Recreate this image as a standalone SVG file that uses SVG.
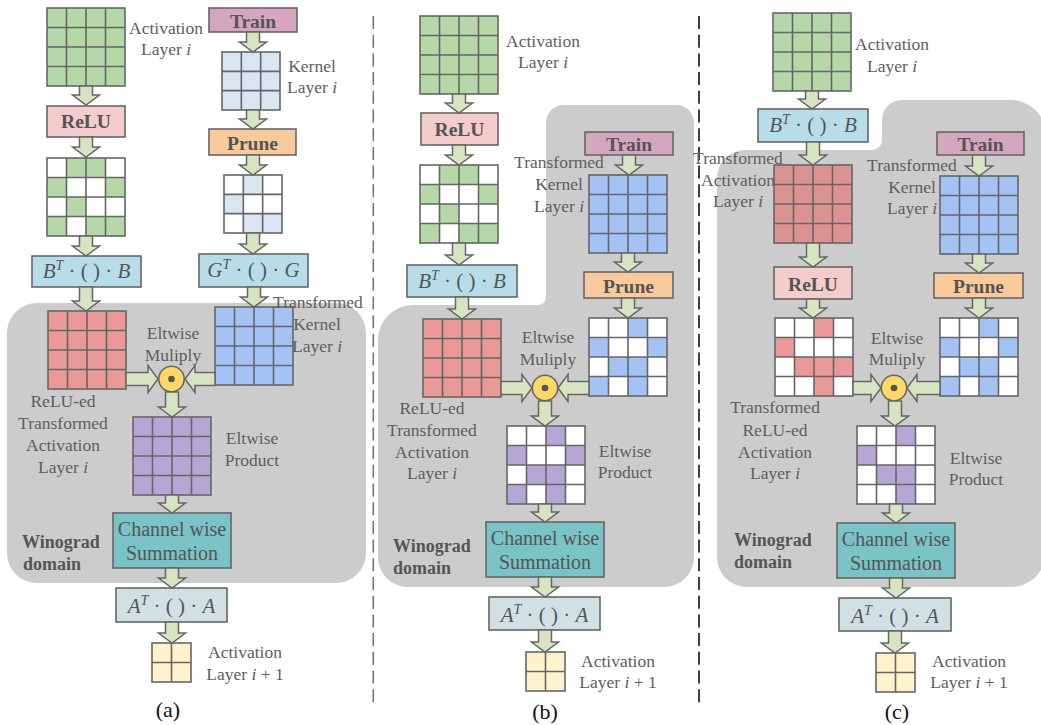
<svg xmlns="http://www.w3.org/2000/svg" xmlns:xlink="http://www.w3.org/1999/xlink" width="1041" height="725" viewBox="0 0 1041 725">
<style>
.lbl{font-family:"Liberation Serif",serif;font-size:17.5px;fill:#5e5e5e;text-anchor:middle}
.op{font-family:"Liberation Serif",serif;font-size:19.5px;font-weight:bold;fill:#555;text-anchor:middle}
.dom{font-family:"Liberation Serif",serif;font-size:18px;font-weight:bold;fill:#555}
.math{font-family:"Liberation Serif",serif;font-size:21px;fill:#555;text-anchor:middle}
.sum{font-family:"Liberation Serif",serif;font-size:20px;fill:#555;text-anchor:middle}
.cap{font-family:"Liberation Serif",serif;font-size:22px;fill:#111;text-anchor:middle}
.box{stroke:#666;stroke-width:1.6}
.gl{fill:none;stroke:#666;stroke-width:1.6}
.arr polygon{fill:#d7e4c1;stroke:#666;stroke-width:1.5;stroke-linejoin:miter}
.region{fill:#cccccc}
.g{fill:#b6d7a8}.kb{fill:#dbe5f1}.b{fill:#a4c2f4}.r{fill:#ea9999}.r2{fill:#dd9292}.p{fill:#b4a7d6}.w{fill:#ffffff}.y{fill:#fff2cc}
.relu{fill:#f4cccc}.bt{fill:#b7dee8}.train{fill:#d5a6bd}.prune{fill:#f9cb9c}.ch{fill:#7ac3c6}.at{fill:#d0e0e3}
.circ{fill:#ffd966;stroke:#666;stroke-width:1.6}
.sep1{stroke:#777;stroke-width:1.6;stroke-dasharray:13 5.7}
.sep2{stroke:#111;stroke-width:1.6;stroke-dasharray:13 5.7}
</style>
<defs>
<g id="grid4"><rect width="78" height="78" class="gl"/><path class="gl" d="M19.5 0V78M39 0V78M58.5 0V78M0 19.5H78M0 39H78M0 58.5H78"/></g>
<g id="grid3"><rect width="58" height="58" class="gl"/><path class="gl" d="M19.33 0V58M38.67 0V58M0 19.33H58M0 38.67H58"/></g>
<g id="grid2"><rect width="39" height="39" class="gl"/><path class="gl" d="M19.5 0V39M0 19.5H39"/></g>
</defs>

<!-- background regions -->
<g id="regions">
<rect id="a-winograd" class="region" x="7" y="303" width="359" height="280" rx="30"/>
<path id="b-winograd" class="region" d="M564,105 H676 A18 18 0 0 1 694 123 V557 A30 30 0 0 1 664 587 H408 A30 30 0 0 1 378 557 V340 A35 35 0 0 1 413 305 H538 A8 8 0 0 0 546 297 V123 A18 18 0 0 1 564 105 Z"/>
<path id="c-winograd" class="region" d="M902,100 H1011 A35 35 0 0 1 1046 135 V552 A35 35 0 0 1 1011 587 H747 A30 30 0 0 1 717 557 V178 A28 28 0 0 1 745 150 H872 A10 10 0 0 0 882 140 V120 A20 20 0 0 1 902 100 Z"/>
</g>

<g id="separators">
<line class="sep1" x1="373.3" y1="16" x2="373.3" y2="708"/>
<line class="sep2" x1="699" y1="16" x2="699" y2="708"/>
</g>

<!-- ================= (a) ================= -->
<g id="a-act">
<rect x="47" y="8" width="78" height="78" class="g"/><use href="#grid4" x="47" y="8"/>
<text class="lbl" x="166" y="34">Activation</text>
<text class="lbl" x="166" y="55">Layer <tspan font-style="italic">i</tspan></text>
</g>
<g id="a-relu"><rect x="47" y="106" width="78" height="31" class="relu box"/><text class="op" x="86" y="128">ReLU</text></g>
<g id="a-act-sparse" transform="translate(47,158)">
<rect width="78" height="78" class="w"/>
<rect x="19.5" y="0" width="39" height="19.5" class="g"/>
<rect x="0" y="19.5" width="19.5" height="19.5" class="g"/><rect x="58.5" y="19.5" width="19.5" height="19.5" class="g"/>
<rect x="19.5" y="39" width="19.5" height="19.5" class="g"/>
<rect x="0" y="58.5" width="19.5" height="19.5" class="g"/><rect x="39" y="58.5" width="39" height="19.5" class="g"/>
<use href="#grid4"/>
</g>
<g id="a-bt"><rect x="32" y="256" width="109" height="31" class="bt box"/>
<text class="math" x="86.5" y="278"><tspan font-style="italic">B</tspan><tspan font-style="italic" font-size="14" dy="-8">T</tspan><tspan dy="8"> · ( ) · </tspan><tspan font-style="italic">B</tspan></text></g>
<g id="a-train"><rect x="209" y="8" width="88" height="24" class="train box"/><text class="op" x="253" y="28">Train</text></g>
<g id="a-kernel">
<rect x="222" y="52" width="58" height="58" class="kb"/><use href="#grid3" x="222" y="52"/>
<text class="lbl" x="312" y="72">Kernel</text>
<text class="lbl" x="312" y="93">Layer <tspan font-style="italic">i</tspan></text>
</g>
<g id="a-prune"><rect x="209" y="129" width="87" height="26" class="prune box"/><text class="op" x="252.5" y="150">Prune</text></g>
<g id="a-kernel-sparse" transform="translate(224,175)">
<rect width="58" height="58" class="w"/>
<rect x="19.33" y="0" width="19.33" height="19.33" class="kb"/>
<rect x="0" y="19.33" width="19.33" height="19.33" class="kb"/>
<rect x="19.33" y="38.67" width="38.67" height="19.33" class="kb"/>
<use href="#grid3"/>
</g>
<g id="a-gt"><rect x="199" y="254" width="109" height="33" class="bt box"/>
<text class="math" x="253.5" y="277"><tspan font-style="italic">G</tspan><tspan font-style="italic" font-size="14" dy="-8">T</tspan><tspan dy="8"> · ( ) · </tspan><tspan font-style="italic">G</tspan></text></g>
<g id="a-tact">
<rect x="48" y="311" width="78" height="78" class="r"/><use href="#grid4" x="48" y="311"/>
<text class="lbl" x="63" y="407">ReLU-ed</text>
<text class="lbl" x="63" y="429">Transformed</text>
<text class="lbl" x="63" y="451">Activation</text>
<text class="lbl" x="63" y="473">Layer <tspan font-style="italic">i</tspan></text>
</g>
<g id="a-tkernel">
<rect x="215" y="307" width="78" height="78" class="b"/><use href="#grid4" x="215" y="307"/>
<text class="lbl" x="318" y="308">Transformed</text>
<text class="lbl" x="317" y="330">Kernel</text>
<text class="lbl" x="317" y="352">Layer <tspan font-style="italic">i</tspan></text>
</g>
<g id="a-mul">
<circle class="circ" cx="171.5" cy="379" r="12.7"/><circle cx="171.5" cy="379" r="3.3" fill="#555"/>
<text class="lbl" x="173" y="339">Eltwise</text>
<text class="lbl" x="173" y="361">Muliply</text>
</g>
<g id="a-prod">
<rect x="133" y="417" width="78" height="78" class="p"/><use href="#grid4" x="133" y="417"/>
<text class="lbl" x="252" y="444">Eltwise</text>
<text class="lbl" x="252" y="466">Product</text>
</g>
<g id="a-sum"><rect x="113" y="513" width="118" height="55" class="ch box"/>
<text class="sum" x="172" y="536">Channel wise</text><text class="sum" x="172" y="560">Summation</text></g>
<g id="a-domain"><text class="dom" x="22" y="548">Winograd</text><text class="dom" x="23" y="570">domain</text></g>
<g id="a-at"><rect x="116" y="588" width="111" height="34" class="at box"/>
<text class="math" x="171.5" y="613"><tspan font-style="italic">A</tspan><tspan font-style="italic" font-size="14" dy="-8">T</tspan><tspan dy="8"> · ( ) · </tspan><tspan font-style="italic">A</tspan></text></g>
<g id="a-out">
<rect x="152" y="643" width="39" height="39" class="y"/><use href="#grid2" x="152" y="643"/>
<text class="lbl" x="245" y="658">Activation</text>
<text class="lbl" x="245" y="680">Layer <tspan font-style="italic">i</tspan> + 1</text>
</g>
<text id="cap-a" class="cap" x="168" y="717">(a)</text>

<!-- ================= (b) ================= -->
<g id="b-act">
<rect x="420" y="16" width="78" height="78" class="g"/><use href="#grid4" x="420" y="16"/>
<text class="lbl" x="543" y="47">Activation</text>
<text class="lbl" x="543" y="68">Layer <tspan font-style="italic">i</tspan></text>
</g>
<g id="b-relu"><rect x="421" y="113" width="77" height="32" class="relu box"/><text class="op" x="459.5" y="136">ReLU</text></g>
<g id="b-act-sparse" transform="translate(420,165)">
<rect width="78" height="78" class="w"/>
<rect x="19.5" y="0" width="39" height="19.5" class="g"/>
<rect x="0" y="19.5" width="19.5" height="19.5" class="g"/><rect x="58.5" y="19.5" width="19.5" height="19.5" class="g"/>
<rect x="19.5" y="39" width="19.5" height="19.5" class="g"/>
<rect x="0" y="58.5" width="19.5" height="19.5" class="g"/><rect x="39" y="58.5" width="39" height="19.5" class="g"/>
<use href="#grid4"/>
</g>
<g id="b-bt"><rect x="407" y="265" width="110" height="32" class="bt box"/>
<text class="math" x="462" y="288"><tspan font-style="italic">B</tspan><tspan font-style="italic" font-size="14" dy="-8">T</tspan><tspan dy="8"> · ( ) · </tspan><tspan font-style="italic">B</tspan></text></g>
<g id="b-train"><rect x="585" y="132" width="88" height="23" class="train box"/><text class="op" x="629" y="151">Train</text></g>
<g id="b-tkernel">
<rect x="589" y="175" width="78" height="78" class="b"/><use href="#grid4" x="589" y="175"/>
<text class="lbl" x="559" y="168">Transformed</text>
<text class="lbl" x="559" y="190">Kernel</text>
<text class="lbl" x="559" y="212">Layer <tspan font-style="italic">i</tspan></text>
</g>
<g id="b-prune"><rect x="584" y="272" width="89" height="26" class="prune box"/><text class="op" x="628.5" y="293">Prune</text></g>
<g id="b-tkernel-sparse" transform="translate(589,318)">
<rect width="78" height="78" class="w"/>
<rect x="39" y="0" width="19.5" height="19.5" class="b"/>
<rect x="0" y="19.5" width="19.5" height="19.5" class="b"/><rect x="58.5" y="19.5" width="19.5" height="19.5" class="b"/>
<rect x="19.5" y="39" width="39" height="19.5" class="b"/>
<rect x="0" y="58.5" width="19.5" height="19.5" class="b"/><rect x="39" y="58.5" width="19.5" height="19.5" class="b"/>
<use href="#grid4"/>
</g>
<g id="b-tact">
<rect x="423" y="319" width="78" height="78" class="r"/><use href="#grid4" x="423" y="319"/>
<text class="lbl" x="432" y="414">ReLU-ed</text>
<text class="lbl" x="432" y="436">Transformed</text>
<text class="lbl" x="432" y="458">Activation</text>
<text class="lbl" x="432" y="479">Layer <tspan font-style="italic">i</tspan></text>
</g>
<g id="b-mul">
<circle class="circ" cx="545" cy="388" r="12.7"/><circle cx="545" cy="388" r="3.3" fill="#555"/>
<text class="lbl" x="548" y="343">Eltwise</text>
<text class="lbl" x="548" y="365">Muliply</text>
</g>
<g id="b-prod" transform="translate(507,426)">
<rect width="78" height="78" class="w"/>
<rect x="39" y="0" width="19.5" height="19.5" class="p"/>
<rect x="0" y="19.5" width="19.5" height="19.5" class="p"/><rect x="58.5" y="19.5" width="19.5" height="19.5" class="p"/>
<rect x="19.5" y="39" width="39" height="19.5" class="p"/>
<rect x="0" y="58.5" width="19.5" height="19.5" class="p"/><rect x="39" y="58.5" width="19.5" height="19.5" class="p"/>
<use href="#grid4"/>
<text class="lbl" x="118" y="31">Eltwise</text>
<text class="lbl" x="118" y="52">Product</text>
</g>
<g id="b-sum"><rect x="486" y="522" width="118" height="55" class="ch box"/>
<text class="sum" x="545" y="545">Channel wise</text><text class="sum" x="545" y="569">Summation</text></g>
<g id="b-domain"><text class="dom" x="393" y="552">Winograd</text><text class="dom" x="393" y="574">domain</text></g>
<g id="b-at"><rect x="489" y="597" width="111" height="33" class="at box"/>
<text class="math" x="544.5" y="622"><tspan font-style="italic">A</tspan><tspan font-style="italic" font-size="14" dy="-8">T</tspan><tspan dy="8"> · ( ) · </tspan><tspan font-style="italic">A</tspan></text></g>
<g id="b-out">
<rect x="526" y="652" width="39" height="39" class="y"/><use href="#grid2" x="526" y="652"/>
<text class="lbl" x="618" y="667">Activation</text>
<text class="lbl" x="618" y="688">Layer <tspan font-style="italic">i</tspan> + 1</text>
</g>
<text id="cap-b" class="cap" x="545" y="719">(b)</text>

<!-- ================= (c) ================= -->
<g id="c-act">
<rect x="773" y="13" width="78" height="78" class="g"/><use href="#grid4" x="773" y="13"/>
<text class="lbl" x="892" y="50">Activation</text>
<text class="lbl" x="892" y="72">Layer <tspan font-style="italic">i</tspan></text>
</g>
<g id="c-bt"><rect x="758" y="109" width="110" height="33" class="bt box"/>
<text class="math" x="813" y="132"><tspan font-style="italic">B</tspan><tspan font-style="italic" font-size="14" dy="-8">T</tspan><tspan dy="8"> · ( ) · </tspan><tspan font-style="italic">B</tspan></text></g>
<g id="c-tact">
<rect x="774" y="165" width="78" height="78" class="r2"/><use href="#grid4" x="774" y="165"/>
<text class="lbl" x="738" y="164">Transformed</text>
<text class="lbl" x="738" y="186">Activation</text>
<text class="lbl" x="738" y="207">Layer <tspan font-style="italic">i</tspan></text>
</g>
<g id="c-relu"><rect x="774" y="267" width="78" height="32" class="relu box"/><text class="op" x="813" y="291">ReLU</text></g>
<g id="c-tact-sparse" transform="translate(775,318)">
<rect width="78" height="78" class="w"/>
<rect x="39" y="0" width="19.5" height="19.5" class="r"/>
<rect x="0" y="19.5" width="19.5" height="19.5" class="r"/>
<rect x="19.5" y="39" width="58.5" height="19.5" class="r"/>
<rect x="39" y="58.5" width="19.5" height="19.5" class="r"/>
<use href="#grid4"/>
<text class="lbl" x="0" y="95">Transformed</text>
<text class="lbl" x="0" y="118">ReLU-ed</text>
<text class="lbl" x="0" y="140">Activation</text>
<text class="lbl" x="0" y="161">Layer <tspan font-style="italic">i</tspan></text>
</g>
<g id="c-train"><rect x="937" y="132" width="87" height="23" class="train box"/><text class="op" x="980.5" y="151">Train</text></g>
<g id="c-tkernel">
<rect x="940" y="176" width="78" height="78" class="b"/><use href="#grid4" x="940" y="176"/>
<text class="lbl" x="912" y="171">Transformed</text>
<text class="lbl" x="912" y="193">Kernel</text>
<text class="lbl" x="912" y="214">Layer <tspan font-style="italic">i</tspan></text>
</g>
<g id="c-prune"><rect x="934" y="273" width="89" height="25" class="prune box"/><text class="op" x="978.5" y="293">Prune</text></g>
<g id="c-tkernel-sparse" transform="translate(940,318)">
<rect width="78" height="78" class="w"/>
<rect x="39" y="0" width="19.5" height="19.5" class="b"/>
<rect x="0" y="19.5" width="19.5" height="19.5" class="b"/><rect x="58.5" y="19.5" width="19.5" height="19.5" class="b"/>
<rect x="19.5" y="39" width="39" height="19.5" class="b"/>
<rect x="0" y="58.5" width="19.5" height="19.5" class="b"/><rect x="39" y="58.5" width="19.5" height="19.5" class="b"/>
<use href="#grid4"/>
</g>
<g id="c-mul">
<circle class="circ" cx="894" cy="388" r="12.7"/><circle cx="894" cy="388" r="3.3" fill="#555"/>
<text class="lbl" x="897" y="344">Eltwise</text>
<text class="lbl" x="897" y="365">Muliply</text>
</g>
<g id="c-prod" transform="translate(857,426)">
<rect width="78" height="78" class="w"/>
<rect x="39" y="0" width="19.5" height="19.5" class="p"/>
<rect x="0" y="19.5" width="19.5" height="19.5" class="p"/>
<rect x="19.5" y="39" width="39" height="19.5" class="p"/>
<rect x="39" y="58.5" width="19.5" height="19.5" class="p"/>
<use href="#grid4"/>
<text class="lbl" x="119" y="38">Eltwise</text>
<text class="lbl" x="119" y="59">Product</text>
</g>
<g id="c-sum"><rect x="837" y="523" width="118" height="55" class="ch box"/>
<text class="sum" x="896" y="546">Channel wise</text><text class="sum" x="896" y="570">Summation</text></g>
<g id="c-domain"><text class="dom" x="734" y="546">Winograd</text><text class="dom" x="734" y="568">domain</text></g>
<g id="c-at"><rect x="839" y="598" width="112" height="33" class="at box"/>
<text class="math" x="895" y="623"><tspan font-style="italic">A</tspan><tspan font-style="italic" font-size="14" dy="-8">T</tspan><tspan dy="8"> · ( ) · </tspan><tspan font-style="italic">A</tspan></text></g>
<g id="c-out">
<rect x="876" y="653" width="39" height="39" class="y"/><use href="#grid2" x="876" y="653"/>
<text class="lbl" x="969" y="667">Activation</text>
<text class="lbl" x="969" y="688">Layer <tspan font-style="italic">i</tspan> + 1</text>
</g>
<text id="cap-c" class="cap" x="897" y="719">(c)</text>

<!-- ================= connectors ================= -->
<g id="connectors" class="arr">
<!-- (a) -->
<polygon points="79.5,86 92.5,86 92.5,95 99.5,95 86,105 72.5,95 79.5,95"/>
<polygon points="79.5,137 92.5,137 92.5,147 99.5,147 86,157 72.5,147 79.5,147"/>
<polygon points="79.5,236 92.5,236 92.5,246 99.5,246 86,256 72.5,246 79.5,246"/>
<polygon points="79.5,287 92.5,287 92.5,301 99.5,301 86,311 72.5,301 79.5,301"/>
<polygon points="246.5,32 259.5,32 259.5,42 266.5,42 253,52 239.5,42 246.5,42"/>
<polygon points="246.5,110 259.5,110 259.5,119 266.5,119 253,129 239.5,119 246.5,119"/>
<polygon points="246.5,155 259.5,155 259.5,165 266.5,165 253,175 239.5,165 246.5,165"/>
<polygon points="246.5,233 259.5,233 259.5,244 266.5,244 253,254 239.5,244 246.5,244"/>
<polygon points="247.5,287 260.5,287 260.5,297 267.5,297 254,307 240.5,297 247.5,297"/>
<polygon points="126,372.5 126,385.5 148,385.5 148,392.5 158,379 148,365.5 148,372.5"/>
<polygon points="215,372.5 215,385.5 195,385.5 195,392.5 185,379 195,365.5 195,372.5"/>
<polygon points="165.5,392 178.5,392 178.5,407 185.5,407 172,417 158.5,407 165.5,407"/>
<polygon points="165.5,495 178.5,495 178.5,503 185.5,503 172,513 158.5,503 165.5,503"/>
<polygon points="165.5,568 178.5,568 178.5,578 185.5,578 172,588 158.5,578 165.5,578"/>
<polygon points="165.5,622 178.5,622 178.5,633 185.5,633 172,643 158.5,633 165.5,633"/>
<!-- (b) -->
<polygon points="452.5,94 465.5,94 465.5,103 472.5,103 459,113 445.5,103 452.5,103"/>
<polygon points="452.5,145 465.5,145 465.5,155 472.5,155 459,165 445.5,155 452.5,155"/>
<polygon points="452.5,243 465.5,243 465.5,255 472.5,255 459,265 445.5,255 452.5,255"/>
<polygon points="455.5,297 468.5,297 468.5,309 475.5,309 462,319 448.5,309 455.5,309"/>
<polygon points="622.5,155 635.5,155 635.5,165 642.5,165 629,175 615.5,165 622.5,165"/>
<polygon points="621.5,253 634.5,253 634.5,262 641.5,262 628,272 614.5,262 621.5,262"/>
<polygon points="621.5,298 634.5,298 634.5,308 641.5,308 628,318 614.5,308 621.5,308"/>
<polygon points="501,381.5 501,394.5 522,394.5 522,401.5 532,388 522,374.5 522,381.5"/>
<polygon points="589,381.5 589,394.5 568,394.5 568,401.5 558,388 568,374.5 568,381.5"/>
<polygon points="538.5,401 551.5,401 551.5,416 558.5,416 545,426 531.5,416 538.5,416"/>
<polygon points="538.5,504 551.5,504 551.5,512 558.5,512 545,522 531.5,512 538.5,512"/>
<polygon points="538.5,577 551.5,577 551.5,587 558.5,587 545,597 531.5,587 538.5,587"/>
<polygon points="538.5,630 551.5,630 551.5,642 558.5,642 545,652 531.5,642 538.5,642"/>
<!-- (c) -->
<polygon points="805.5,91 818.5,91 818.5,99 825.5,99 812,109 798.5,99 805.5,99"/>
<polygon points="806.5,142 819.5,142 819.5,155 826.5,155 813,165 799.5,155 806.5,155"/>
<polygon points="806.5,243 819.5,243 819.5,257 826.5,257 813,267 799.5,257 806.5,257"/>
<polygon points="806.5,299 819.5,299 819.5,308 826.5,308 813,318 799.5,308 806.5,308"/>
<polygon points="972.5,155 985.5,155 985.5,166 992.5,166 979,176 965.5,166 972.5,166"/>
<polygon points="972.5,254 985.5,254 985.5,263 992.5,263 979,273 965.5,263 972.5,263"/>
<polygon points="972.5,298 985.5,298 985.5,308 992.5,308 979,318 965.5,308 972.5,308"/>
<polygon points="853,381.5 853,394.5 871,394.5 871,401.5 881,388 871,374.5 871,381.5"/>
<polygon points="940,381.5 940,394.5 917,394.5 917,401.5 907,388 917,374.5 917,381.5"/>
<polygon points="888.5,401 901.5,401 901.5,416 908.5,416 895,426 881.5,416 888.5,416"/>
<polygon points="889.5,504 902.5,504 902.5,513 909.5,513 896,523 882.5,513 889.5,513"/>
<polygon points="889.5,578 902.5,578 902.5,588 909.5,588 896,598 882.5,588 889.5,588"/>
<polygon points="888.5,631 901.5,631 901.5,643 908.5,643 895,653 881.5,643 888.5,643"/>
</g>
</svg>
